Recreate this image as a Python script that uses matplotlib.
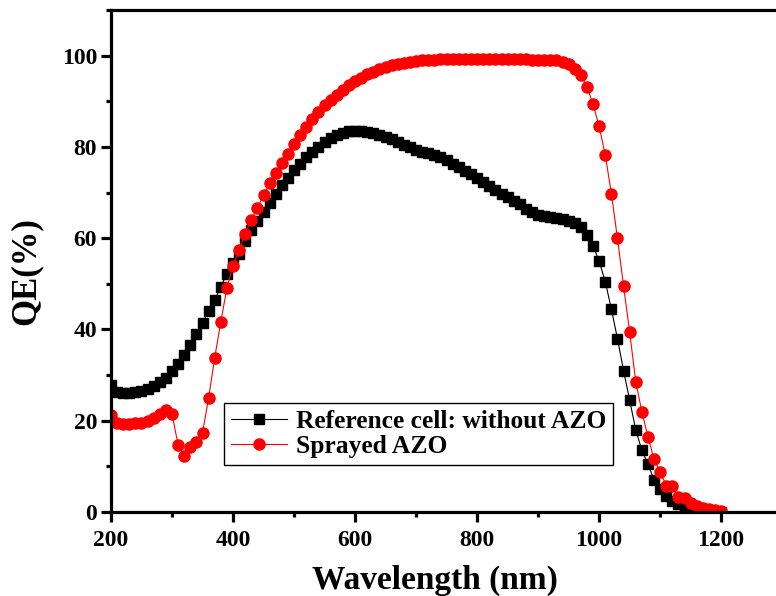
import numpy as np
import matplotlib
matplotlib.use('Agg')
import matplotlib.pyplot as plt
from matplotlib.ticker import MultipleLocator

plt.rcParams['font.family'] = ['Liberation Serif', 'DejaVu Serif']
plt.rcParams['font.weight'] = 'bold'

wavelength = list(range(200, 1210, 10))

# reference cell: without AZO
ref_qe = [27.8, 26.4, 26.0, 26.0, 26.2, 26.6, 27.0, 27.7, 28.5, 29.4,
          30.8, 32.5, 34.3, 36.7, 39.0, 41.4, 44.0, 46.4, 49.4, 52.2,
          54.6, 56.6, 59.3, 61.8, 63.8, 65.8, 67.8, 69.6, 71.6, 73.2,
          75.0, 76.3, 77.7, 78.9, 80.0, 81.1, 81.9, 82.6, 83.1, 83.4,
          83.6, 83.5, 83.2, 83.0, 82.6, 82.2, 81.7, 81.0, 80.4, 79.9,
          79.4, 78.9, 78.6, 78.2, 77.8, 77.1, 76.3, 75.6, 74.7, 74.0,
          73.2, 72.3, 71.5, 70.6, 69.8, 69.1, 68.2, 67.4, 66.5, 65.7,
          65.1, 64.8, 64.7, 64.5, 64.3, 63.8, 63.4, 62.4, 60.8, 58.3,
          55.0, 50.5, 44.5, 38.0, 31.0, 24.5, 18.0, 13.5, 10.5, 7.0,
          5.0, 3.5, 2.5, 1.8, 1.2, 0.8, 0.5, 0.3, 0.2, 0.1, 0.1]

# sprayed AZO
azo_qe = [21.3, 19.6, 19.2, 19.3, 19.5, 19.6, 19.9, 20.5, 21.4, 22.4,
          21.5, 14.7, 12.3, 14.2, 15.4, 17.3, 25.0, 33.8, 41.7, 49.1,
          54.0, 57.4, 61.0, 64.0, 66.7, 69.4, 72.0, 74.3, 76.4, 78.5,
          80.6, 82.7, 84.3, 86.1, 87.6, 89.2, 90.4, 91.5, 92.6, 93.5,
          94.4, 95.2, 95.9, 96.5, 97.0, 97.5, 97.9, 98.2, 98.5, 98.7,
          98.9, 99.0, 99.1, 99.1, 99.2, 99.2, 99.2, 99.2, 99.2, 99.2,
          99.2, 99.2, 99.2, 99.2, 99.2, 99.2, 99.2, 99.2, 99.2, 99.1,
          99.1, 99.1, 99.1, 99.0, 98.6, 98.1, 97.1, 95.8, 93.2, 89.4,
          84.5, 78.3, 69.8, 60.0, 49.5, 39.5, 28.5, 22.0, 16.5, 11.5,
          8.8, 5.8, 5.6, 3.2, 3.0, 2.0, 1.3, 0.9, 0.6, 0.4, 0.3]

fig = plt.figure(figsize=(7.76, 5.96), dpi=100)
ax = fig.add_axes([0.143, 0.141, 0.865, 0.842])

ax.plot(wavelength, ref_qe, color='black', lw=0.8, marker='s', ms=6.5,
        mec='black', mfc='black', label='Reference cell: without AZO')
ax.plot(wavelength, azo_qe, color='red', lw=0.8, marker='o', ms=8,
        mec='red', mfc='red', label='Sprayed AZO')

ax.set_xlim(200, 1300)
ax.set_ylim(0, 110)
ax.xaxis.set_minor_locator(MultipleLocator(100))
ax.yaxis.set_minor_locator(MultipleLocator(10))
ax.set_xticks([200, 400, 600, 800, 1000, 1200])
ax.set_yticks([0, 20, 40, 60, 80, 100])

for s in ax.spines.values():
    s.set_linewidth(2.3)
ax.tick_params(axis='x', which='major', pad=6)
ax.tick_params(axis='y', which='major', pad=3)
ax.tick_params(which='major', direction='out', length=7, width=2.3,
               labelsize=17, top=False, right=False)
ax.tick_params(which='minor', direction='out', length=3.5, width=2.3,
               top=False, right=False)
for lab in ax.get_xticklabels() + ax.get_yticklabels():
    lab.set_fontweight('bold')

ax.set_xlabel('Wavelength (nm)', fontsize=24, fontweight='bold')
ax.xaxis.set_label_coords(0.483, -0.105)
ax.set_ylabel('QE(%)', fontsize=25, fontweight='bold')
ax.yaxis.set_label_coords(-0.102, 0.48)

leg = ax.legend(loc='lower left', bbox_to_anchor=(0.169, 0.094),
                fancybox=False, edgecolor='black', framealpha=1,
                prop={'size': 18.4, 'weight': 'bold'}, handlelength=2.2,
                borderpad=0.25, labelspacing=0.1, handletextpad=0.35,
                borderaxespad=0)
leg.get_frame().set_linewidth(1.0)

fig.savefig('out.png', dpi=100)
